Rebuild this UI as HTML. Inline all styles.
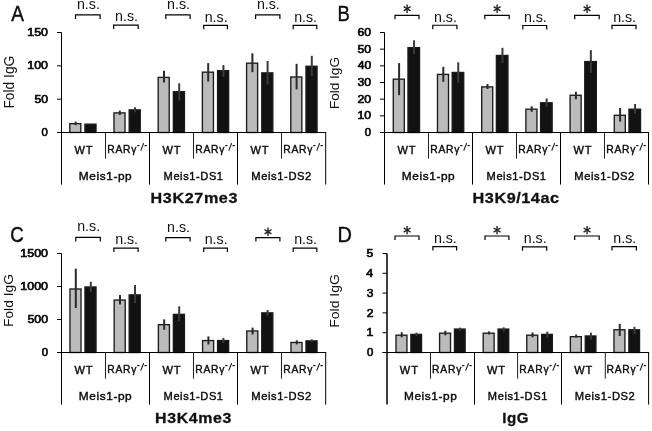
<!DOCTYPE html>
<html><head><meta charset="utf-8"><style>
html,body{margin:0;padding:0;background:#fff;width:652px;height:431px;overflow:hidden}
svg{display:block;will-change:transform;filter:blur(0.35px)}
text{font-family:"Liberation Sans",sans-serif}
text.r{stroke:#000;stroke-width:0.4px}
text.t{stroke:#111;stroke-width:0.3px}
text.k{stroke:#000;stroke-width:0.6px}
</style></head><body>
<svg width="652" height="431" viewBox="0 0 652 431" font-family="Liberation Sans, sans-serif">
<rect width="652" height="431" fill="#fff"/>
<rect x="69.77" y="123.67" width="11.05" height="8.82" fill="#bbbbbb" stroke="#1a1a1a" stroke-width="1.35"/>
<line x1="75.60" y1="121.60" x2="75.60" y2="125.20" stroke="#2a2a2a" stroke-width="2.0"/>
<rect x="84.97" y="124.17" width="11.05" height="8.32" fill="#121212" stroke="#1a1a1a" stroke-width="1.35"/>
<rect x="113.97" y="112.88" width="11.05" height="19.62" fill="#bbbbbb" stroke="#1a1a1a" stroke-width="1.35"/>
<line x1="119.80" y1="110.60" x2="119.80" y2="115.00" stroke="#2a2a2a" stroke-width="2.0"/>
<rect x="129.18" y="109.88" width="11.05" height="22.62" fill="#121212" stroke="#1a1a1a" stroke-width="1.35"/>
<line x1="135.00" y1="107.30" x2="135.00" y2="112.20" stroke="#3a3a3a" stroke-width="2.0"/>
<rect x="158.18" y="77.38" width="11.05" height="55.12" fill="#bbbbbb" stroke="#1a1a1a" stroke-width="1.35"/>
<line x1="164.00" y1="70.80" x2="164.00" y2="82.60" stroke="#2a2a2a" stroke-width="2.0"/>
<rect x="173.38" y="91.67" width="11.05" height="40.83" fill="#121212" stroke="#1a1a1a" stroke-width="1.35"/>
<line x1="179.20" y1="83.30" x2="179.20" y2="100.50" stroke="#3a3a3a" stroke-width="2.0"/>
<rect x="202.38" y="72.17" width="11.05" height="60.33" fill="#bbbbbb" stroke="#1a1a1a" stroke-width="1.35"/>
<line x1="208.20" y1="63.10" x2="208.20" y2="81.50" stroke="#2a2a2a" stroke-width="2.0"/>
<rect x="217.58" y="70.67" width="11.05" height="61.83" fill="#121212" stroke="#1a1a1a" stroke-width="1.35"/>
<line x1="223.40" y1="65.00" x2="223.40" y2="76.90" stroke="#3a3a3a" stroke-width="2.0"/>
<rect x="246.58" y="63.17" width="11.05" height="69.33" fill="#bbbbbb" stroke="#1a1a1a" stroke-width="1.35"/>
<line x1="252.40" y1="53.30" x2="252.40" y2="72.20" stroke="#2a2a2a" stroke-width="2.0"/>
<rect x="261.78" y="72.88" width="11.05" height="59.62" fill="#121212" stroke="#1a1a1a" stroke-width="1.35"/>
<line x1="267.60" y1="61.00" x2="267.60" y2="84.50" stroke="#3a3a3a" stroke-width="2.0"/>
<rect x="290.78" y="76.97" width="11.05" height="55.53" fill="#bbbbbb" stroke="#1a1a1a" stroke-width="1.35"/>
<line x1="296.60" y1="63.80" x2="296.60" y2="89.40" stroke="#2a2a2a" stroke-width="2.0"/>
<rect x="305.98" y="66.27" width="11.05" height="66.23" fill="#121212" stroke="#1a1a1a" stroke-width="1.35"/>
<line x1="311.80" y1="55.80" x2="311.80" y2="76.00" stroke="#3a3a3a" stroke-width="2.0"/>
<line x1="61.50" y1="32.50" x2="61.50" y2="184.60" stroke="#000" stroke-width="1.0"/>
<line x1="57.00" y1="132.50" x2="326.20" y2="132.50" stroke="#000" stroke-width="1.0"/>
<line x1="105.50" y1="132.50" x2="105.50" y2="158.60" stroke="#222" stroke-width="1.0"/>
<line x1="149.50" y1="132.50" x2="149.50" y2="184.60" stroke="#000" stroke-width="1.0"/>
<line x1="193.50" y1="132.50" x2="193.50" y2="158.60" stroke="#222" stroke-width="1.0"/>
<line x1="237.50" y1="132.50" x2="237.50" y2="184.60" stroke="#000" stroke-width="1.0"/>
<line x1="281.50" y1="132.50" x2="281.50" y2="158.60" stroke="#222" stroke-width="1.0"/>
<line x1="325.70" y1="132.50" x2="325.70" y2="184.60" stroke="#000" stroke-width="1.0"/>
<line x1="57.00" y1="32.50" x2="61.50" y2="32.50" stroke="#000" stroke-width="1.0"/>
<text class="k" transform="translate(27.29,36.10) scale(1.2054,1)" font-size="10.29" font-weight="normal" fill="#111">150</text>
<line x1="57.00" y1="65.83" x2="61.50" y2="65.83" stroke="#000" stroke-width="1.0"/>
<text class="k" transform="translate(27.29,69.43) scale(1.2054,1)" font-size="10.29" font-weight="normal" fill="#111">100</text>
<line x1="57.00" y1="99.17" x2="61.50" y2="99.17" stroke="#000" stroke-width="1.0"/>
<text class="k" transform="translate(34.40,102.77) scale(1.1846,1)" font-size="10.29" font-weight="normal" fill="#111">50</text>
<line x1="57.00" y1="132.50" x2="61.50" y2="132.50" stroke="#000" stroke-width="1.0"/>
<text class="k" transform="translate(41.61,136.10) scale(1.1006,1)" font-size="10.29" font-weight="normal" fill="#111">0</text>
<rect x="393.28" y="79.17" width="11.05" height="53.33" fill="#bbbbbb" stroke="#1a1a1a" stroke-width="1.35"/>
<line x1="399.10" y1="63.10" x2="399.10" y2="95.20" stroke="#2a2a2a" stroke-width="2.0"/>
<rect x="407.98" y="47.67" width="11.55" height="84.83" fill="#121212" stroke="#1a1a1a" stroke-width="1.35"/>
<line x1="414.05" y1="40.30" x2="414.05" y2="54.00" stroke="#3a3a3a" stroke-width="2.0"/>
<rect x="437.48" y="74.38" width="11.05" height="58.12" fill="#bbbbbb" stroke="#1a1a1a" stroke-width="1.35"/>
<line x1="443.30" y1="66.80" x2="443.30" y2="81.80" stroke="#2a2a2a" stroke-width="2.0"/>
<rect x="452.18" y="72.47" width="11.55" height="60.03" fill="#121212" stroke="#1a1a1a" stroke-width="1.35"/>
<line x1="458.25" y1="62.30" x2="458.25" y2="82.60" stroke="#3a3a3a" stroke-width="2.0"/>
<rect x="481.68" y="86.88" width="11.05" height="45.62" fill="#bbbbbb" stroke="#1a1a1a" stroke-width="1.35"/>
<line x1="487.50" y1="84.00" x2="487.50" y2="89.00" stroke="#2a2a2a" stroke-width="2.0"/>
<rect x="496.38" y="55.47" width="11.55" height="77.03" fill="#121212" stroke="#1a1a1a" stroke-width="1.35"/>
<line x1="502.45" y1="47.80" x2="502.45" y2="63.10" stroke="#3a3a3a" stroke-width="2.0"/>
<rect x="525.88" y="109.17" width="11.05" height="23.32" fill="#bbbbbb" stroke="#1a1a1a" stroke-width="1.35"/>
<line x1="531.70" y1="106.30" x2="531.70" y2="111.80" stroke="#2a2a2a" stroke-width="2.0"/>
<rect x="540.58" y="102.77" width="11.55" height="29.73" fill="#121212" stroke="#1a1a1a" stroke-width="1.35"/>
<line x1="546.65" y1="98.50" x2="546.65" y2="106.80" stroke="#3a3a3a" stroke-width="2.0"/>
<rect x="570.08" y="95.27" width="11.05" height="37.23" fill="#bbbbbb" stroke="#1a1a1a" stroke-width="1.35"/>
<line x1="575.90" y1="91.80" x2="575.90" y2="99.30" stroke="#2a2a2a" stroke-width="2.0"/>
<rect x="584.77" y="61.57" width="11.55" height="70.92" fill="#121212" stroke="#1a1a1a" stroke-width="1.35"/>
<line x1="590.85" y1="50.10" x2="590.85" y2="72.90" stroke="#3a3a3a" stroke-width="2.0"/>
<rect x="614.27" y="115.27" width="11.05" height="17.23" fill="#bbbbbb" stroke="#1a1a1a" stroke-width="1.35"/>
<line x1="620.10" y1="108.00" x2="620.10" y2="121.60" stroke="#2a2a2a" stroke-width="2.0"/>
<rect x="628.97" y="109.17" width="11.55" height="23.32" fill="#121212" stroke="#1a1a1a" stroke-width="1.35"/>
<line x1="635.05" y1="104.00" x2="635.05" y2="114.00" stroke="#3a3a3a" stroke-width="2.0"/>
<line x1="384.50" y1="32.50" x2="384.50" y2="184.60" stroke="#000" stroke-width="1.0"/>
<line x1="380.00" y1="132.50" x2="649.00" y2="132.50" stroke="#000" stroke-width="1.0"/>
<line x1="428.50" y1="132.50" x2="428.50" y2="158.60" stroke="#222" stroke-width="1.0"/>
<line x1="472.50" y1="132.50" x2="472.50" y2="184.60" stroke="#000" stroke-width="1.0"/>
<line x1="516.50" y1="132.50" x2="516.50" y2="158.60" stroke="#222" stroke-width="1.0"/>
<line x1="560.50" y1="132.50" x2="560.50" y2="184.60" stroke="#000" stroke-width="1.0"/>
<line x1="604.50" y1="132.50" x2="604.50" y2="158.60" stroke="#222" stroke-width="1.0"/>
<line x1="648.50" y1="132.50" x2="648.50" y2="184.60" stroke="#000" stroke-width="1.0"/>
<line x1="380.00" y1="32.50" x2="384.50" y2="32.50" stroke="#000" stroke-width="1.0"/>
<text class="k" transform="translate(357.54,36.10) scale(1.1901,1)" font-size="10.29" font-weight="normal" fill="#111">60</text>
<line x1="380.00" y1="49.17" x2="384.50" y2="49.17" stroke="#000" stroke-width="1.0"/>
<text class="k" transform="translate(357.60,52.77) scale(1.1846,1)" font-size="10.29" font-weight="normal" fill="#111">50</text>
<line x1="380.00" y1="65.83" x2="384.50" y2="65.83" stroke="#000" stroke-width="1.0"/>
<text class="k" transform="translate(357.66,69.43) scale(1.1797,1)" font-size="10.29" font-weight="normal" fill="#111">40</text>
<line x1="380.00" y1="82.50" x2="384.50" y2="82.50" stroke="#000" stroke-width="1.0"/>
<text class="k" transform="translate(357.54,86.10) scale(1.1906,1)" font-size="10.29" font-weight="normal" fill="#111">30</text>
<line x1="380.00" y1="99.17" x2="384.50" y2="99.17" stroke="#000" stroke-width="1.0"/>
<text class="k" transform="translate(357.54,102.77) scale(1.1901,1)" font-size="10.29" font-weight="normal" fill="#111">20</text>
<line x1="380.00" y1="115.83" x2="384.50" y2="115.83" stroke="#000" stroke-width="1.0"/>
<text class="k" transform="translate(357.55,119.43) scale(1.1890,1)" font-size="10.29" font-weight="normal" fill="#111">10</text>
<line x1="380.00" y1="132.50" x2="384.50" y2="132.50" stroke="#000" stroke-width="1.0"/>
<text class="k" transform="translate(364.81,136.10) scale(1.1006,1)" font-size="10.29" font-weight="normal" fill="#111">0</text>
<rect x="69.97" y="288.98" width="11.05" height="63.52" fill="#bbbbbb" stroke="#1a1a1a" stroke-width="1.35"/>
<line x1="75.80" y1="268.70" x2="75.80" y2="308.00" stroke="#2a2a2a" stroke-width="2.0"/>
<rect x="84.97" y="286.98" width="11.05" height="65.52" fill="#121212" stroke="#1a1a1a" stroke-width="1.35"/>
<line x1="90.80" y1="281.70" x2="90.80" y2="292.20" stroke="#3a3a3a" stroke-width="2.0"/>
<rect x="114.17" y="300.07" width="11.05" height="52.43" fill="#bbbbbb" stroke="#1a1a1a" stroke-width="1.35"/>
<line x1="120.00" y1="295.00" x2="120.00" y2="304.40" stroke="#2a2a2a" stroke-width="2.0"/>
<rect x="129.18" y="294.88" width="11.05" height="57.63" fill="#121212" stroke="#1a1a1a" stroke-width="1.35"/>
<line x1="135.00" y1="285.00" x2="135.00" y2="302.90" stroke="#3a3a3a" stroke-width="2.0"/>
<rect x="158.38" y="324.68" width="11.05" height="27.82" fill="#bbbbbb" stroke="#1a1a1a" stroke-width="1.35"/>
<line x1="164.20" y1="319.40" x2="164.20" y2="329.80" stroke="#2a2a2a" stroke-width="2.0"/>
<rect x="173.38" y="314.38" width="11.05" height="38.13" fill="#121212" stroke="#1a1a1a" stroke-width="1.35"/>
<line x1="179.20" y1="306.30" x2="179.20" y2="321.40" stroke="#3a3a3a" stroke-width="2.0"/>
<rect x="202.58" y="340.57" width="11.05" height="11.93" fill="#bbbbbb" stroke="#1a1a1a" stroke-width="1.35"/>
<line x1="208.40" y1="336.40" x2="208.40" y2="344.50" stroke="#2a2a2a" stroke-width="2.0"/>
<rect x="217.58" y="340.57" width="11.05" height="11.93" fill="#121212" stroke="#1a1a1a" stroke-width="1.35"/>
<line x1="223.40" y1="338.00" x2="223.40" y2="343.00" stroke="#3a3a3a" stroke-width="2.0"/>
<rect x="246.78" y="330.98" width="11.05" height="21.52" fill="#bbbbbb" stroke="#1a1a1a" stroke-width="1.35"/>
<line x1="252.60" y1="327.60" x2="252.60" y2="334.50" stroke="#2a2a2a" stroke-width="2.0"/>
<rect x="261.78" y="312.88" width="11.05" height="39.63" fill="#121212" stroke="#1a1a1a" stroke-width="1.35"/>
<line x1="267.60" y1="310.00" x2="267.60" y2="316.00" stroke="#3a3a3a" stroke-width="2.0"/>
<rect x="290.98" y="342.48" width="11.05" height="10.02" fill="#bbbbbb" stroke="#1a1a1a" stroke-width="1.35"/>
<line x1="296.80" y1="340.30" x2="296.80" y2="344.40" stroke="#2a2a2a" stroke-width="2.0"/>
<rect x="305.98" y="340.88" width="11.05" height="11.63" fill="#121212" stroke="#1a1a1a" stroke-width="1.35"/>
<line x1="311.80" y1="339.40" x2="311.80" y2="342.00" stroke="#3a3a3a" stroke-width="2.0"/>
<line x1="61.50" y1="253.50" x2="61.50" y2="404.60" stroke="#000" stroke-width="1.0"/>
<line x1="57.00" y1="352.50" x2="326.20" y2="352.50" stroke="#000" stroke-width="1.0"/>
<line x1="105.50" y1="352.50" x2="105.50" y2="378.60" stroke="#222" stroke-width="1.0"/>
<line x1="149.50" y1="352.50" x2="149.50" y2="404.60" stroke="#000" stroke-width="1.0"/>
<line x1="193.50" y1="352.50" x2="193.50" y2="378.60" stroke="#222" stroke-width="1.0"/>
<line x1="237.50" y1="352.50" x2="237.50" y2="404.60" stroke="#000" stroke-width="1.0"/>
<line x1="281.50" y1="352.50" x2="281.50" y2="378.60" stroke="#222" stroke-width="1.0"/>
<line x1="325.70" y1="352.50" x2="325.70" y2="404.60" stroke="#000" stroke-width="1.0"/>
<line x1="57.00" y1="253.50" x2="61.50" y2="253.50" stroke="#000" stroke-width="1.0"/>
<text class="k" transform="translate(20.27,257.10) scale(1.2133,1)" font-size="10.29" font-weight="normal" fill="#111">1500</text>
<line x1="57.00" y1="286.50" x2="61.50" y2="286.50" stroke="#000" stroke-width="1.0"/>
<text class="k" transform="translate(20.27,290.10) scale(1.2133,1)" font-size="10.29" font-weight="normal" fill="#111">1000</text>
<line x1="57.00" y1="319.50" x2="61.50" y2="319.50" stroke="#000" stroke-width="1.0"/>
<text class="k" transform="translate(27.44,323.10) scale(1.2022,1)" font-size="10.29" font-weight="normal" fill="#111">500</text>
<line x1="57.00" y1="352.50" x2="61.50" y2="352.50" stroke="#000" stroke-width="1.0"/>
<text class="k" transform="translate(41.71,356.10) scale(1.1006,1)" font-size="10.29" font-weight="normal" fill="#111">0</text>
<rect x="395.98" y="335.18" width="10.95" height="17.32" fill="#bbbbbb" stroke="#1a1a1a" stroke-width="1.35"/>
<line x1="401.75" y1="332.20" x2="401.75" y2="337.30" stroke="#2a2a2a" stroke-width="2.0"/>
<rect x="410.88" y="334.38" width="10.65" height="18.13" fill="#121212" stroke="#1a1a1a" stroke-width="1.35"/>
<line x1="416.50" y1="332.70" x2="416.50" y2="336.00" stroke="#3a3a3a" stroke-width="2.0"/>
<rect x="439.58" y="333.18" width="10.95" height="19.32" fill="#bbbbbb" stroke="#1a1a1a" stroke-width="1.35"/>
<line x1="445.35" y1="330.70" x2="445.35" y2="335.30" stroke="#2a2a2a" stroke-width="2.0"/>
<rect x="454.48" y="329.07" width="10.65" height="23.43" fill="#121212" stroke="#1a1a1a" stroke-width="1.35"/>
<line x1="460.10" y1="327.60" x2="460.10" y2="330.70" stroke="#3a3a3a" stroke-width="2.0"/>
<rect x="483.18" y="333.18" width="10.95" height="19.32" fill="#bbbbbb" stroke="#1a1a1a" stroke-width="1.35"/>
<line x1="488.95" y1="331.40" x2="488.95" y2="334.50" stroke="#2a2a2a" stroke-width="2.0"/>
<rect x="498.07" y="329.07" width="10.65" height="23.43" fill="#121212" stroke="#1a1a1a" stroke-width="1.35"/>
<line x1="503.70" y1="327.30" x2="503.70" y2="331.40" stroke="#3a3a3a" stroke-width="2.0"/>
<rect x="526.77" y="335.18" width="10.95" height="17.32" fill="#bbbbbb" stroke="#1a1a1a" stroke-width="1.35"/>
<line x1="532.55" y1="332.50" x2="532.55" y2="337.30" stroke="#2a2a2a" stroke-width="2.0"/>
<rect x="541.67" y="334.38" width="10.65" height="18.13" fill="#121212" stroke="#1a1a1a" stroke-width="1.35"/>
<line x1="547.30" y1="331.70" x2="547.30" y2="337.60" stroke="#3a3a3a" stroke-width="2.0"/>
<rect x="570.38" y="336.68" width="10.95" height="15.82" fill="#bbbbbb" stroke="#1a1a1a" stroke-width="1.35"/>
<line x1="576.15" y1="334.50" x2="576.15" y2="337.60" stroke="#2a2a2a" stroke-width="2.0"/>
<rect x="585.27" y="335.98" width="10.65" height="16.52" fill="#121212" stroke="#1a1a1a" stroke-width="1.35"/>
<line x1="590.90" y1="332.70" x2="590.90" y2="339.60" stroke="#3a3a3a" stroke-width="2.0"/>
<rect x="613.97" y="329.78" width="10.95" height="22.72" fill="#bbbbbb" stroke="#1a1a1a" stroke-width="1.35"/>
<line x1="619.75" y1="323.80" x2="619.75" y2="336.00" stroke="#2a2a2a" stroke-width="2.0"/>
<rect x="628.88" y="329.78" width="10.65" height="22.72" fill="#121212" stroke="#1a1a1a" stroke-width="1.35"/>
<line x1="634.50" y1="326.80" x2="634.50" y2="334.00" stroke="#3a3a3a" stroke-width="2.0"/>
<line x1="387.00" y1="253.50" x2="387.00" y2="404.60" stroke="#000" stroke-width="1.5"/>
<line x1="382.50" y1="352.50" x2="649.10" y2="352.50" stroke="#000" stroke-width="1.0"/>
<line x1="430.50" y1="352.50" x2="430.50" y2="378.60" stroke="#222" stroke-width="1.0"/>
<line x1="474.50" y1="352.50" x2="474.50" y2="404.60" stroke="#000" stroke-width="1.0"/>
<line x1="517.60" y1="352.50" x2="517.60" y2="378.60" stroke="#222" stroke-width="1.0"/>
<line x1="561.50" y1="352.50" x2="561.50" y2="404.60" stroke="#000" stroke-width="1.0"/>
<line x1="605.30" y1="352.50" x2="605.30" y2="378.60" stroke="#222" stroke-width="1.0"/>
<line x1="648.60" y1="352.50" x2="648.60" y2="404.60" stroke="#000" stroke-width="1.0"/>
<line x1="382.50" y1="253.50" x2="387.00" y2="253.50" stroke="#000" stroke-width="1.0"/>
<text class="k" transform="translate(366.56,257.10) scale(1.1772,1)" font-size="10.29" font-weight="normal" fill="#111">5</text>
<line x1="382.50" y1="273.30" x2="387.00" y2="273.30" stroke="#000" stroke-width="1.0"/>
<text class="k" transform="translate(366.36,276.90) scale(1.1929,1)" font-size="10.29" font-weight="normal" fill="#111">4</text>
<line x1="382.50" y1="293.10" x2="387.00" y2="293.10" stroke="#000" stroke-width="1.0"/>
<text class="k" transform="translate(366.63,296.70) scale(1.1642,1)" font-size="10.29" font-weight="normal" fill="#111">3</text>
<line x1="382.50" y1="312.90" x2="387.00" y2="312.90" stroke="#000" stroke-width="1.0"/>
<text class="k" transform="translate(366.70,316.50) scale(1.1747,1)" font-size="10.29" font-weight="normal" fill="#111">2</text>
<line x1="382.50" y1="332.70" x2="387.00" y2="332.70" stroke="#000" stroke-width="1.0"/>
<text class="k" transform="translate(366.50,336.30) scale(1.2003,1)" font-size="10.29" font-weight="normal" fill="#111">1</text>
<line x1="382.50" y1="352.50" x2="387.00" y2="352.50" stroke="#000" stroke-width="1.0"/>
<text class="k" transform="translate(366.91,356.10) scale(1.1006,1)" font-size="10.29" font-weight="normal" fill="#111">0</text>
<text class="r" transform="translate(74.54,153.50) scale(0.9625,1)" font-size="11.48" font-weight="normal" fill="#111" letter-spacing="0.925">WT</text>
<text class="r" transform="translate(107.17,153.10) scale(0.8789,1)" font-size="11.77" font-weight="normal" fill="#111" letter-spacing="0.862">RARγ</text>
<line x1="137.20" y1="145.60" x2="139.50" y2="145.60" stroke="#111" stroke-width="1.2"/>
<line x1="140.70" y1="150.60" x2="143.70" y2="143.10" stroke="#111" stroke-width="1.1"/>
<line x1="144.50" y1="145.60" x2="146.80" y2="145.60" stroke="#111" stroke-width="1.2"/>
<text class="r" transform="translate(78.85,180.00) scale(1.0192,1)" font-size="11.63" font-weight="normal" fill="#111" letter-spacing="0.576">Meis1-pp</text>
<text class="r" transform="translate(162.54,153.50) scale(0.9625,1)" font-size="11.48" font-weight="normal" fill="#111" letter-spacing="0.925">WT</text>
<text class="r" transform="translate(195.17,153.10) scale(0.8789,1)" font-size="11.77" font-weight="normal" fill="#111" letter-spacing="0.862">RARγ</text>
<line x1="225.20" y1="145.60" x2="227.50" y2="145.60" stroke="#111" stroke-width="1.2"/>
<line x1="228.70" y1="150.60" x2="231.70" y2="143.10" stroke="#111" stroke-width="1.1"/>
<line x1="232.50" y1="145.60" x2="234.80" y2="145.60" stroke="#111" stroke-width="1.2"/>
<text class="r" transform="translate(163.56,180.00) scale(0.9537,1)" font-size="11.63" font-weight="normal" fill="#111" letter-spacing="0.609">Meis1-DS1</text>
<text class="r" transform="translate(250.54,153.50) scale(0.9625,1)" font-size="11.48" font-weight="normal" fill="#111" letter-spacing="0.925">WT</text>
<text class="r" transform="translate(283.17,153.10) scale(0.8789,1)" font-size="11.77" font-weight="normal" fill="#111" letter-spacing="0.862">RARγ</text>
<line x1="313.20" y1="145.60" x2="315.50" y2="145.60" stroke="#111" stroke-width="1.2"/>
<line x1="316.70" y1="150.60" x2="319.70" y2="143.10" stroke="#111" stroke-width="1.1"/>
<line x1="320.50" y1="145.60" x2="322.80" y2="145.60" stroke="#111" stroke-width="1.2"/>
<text class="r" transform="translate(251.30,180.00) scale(0.9629,1)" font-size="11.63" font-weight="normal" fill="#111" letter-spacing="0.609">Meis1-DS2</text>
<text class="r" transform="translate(397.54,153.50) scale(0.9625,1)" font-size="11.48" font-weight="normal" fill="#111" letter-spacing="0.925">WT</text>
<text class="r" transform="translate(430.17,153.10) scale(0.8789,1)" font-size="11.77" font-weight="normal" fill="#111" letter-spacing="0.862">RARγ</text>
<line x1="460.20" y1="145.60" x2="462.50" y2="145.60" stroke="#111" stroke-width="1.2"/>
<line x1="463.70" y1="150.60" x2="466.70" y2="143.10" stroke="#111" stroke-width="1.1"/>
<line x1="467.50" y1="145.60" x2="469.80" y2="145.60" stroke="#111" stroke-width="1.2"/>
<text class="r" transform="translate(401.85,180.00) scale(1.0192,1)" font-size="11.63" font-weight="normal" fill="#111" letter-spacing="0.576">Meis1-pp</text>
<text class="r" transform="translate(485.54,153.50) scale(0.9625,1)" font-size="11.48" font-weight="normal" fill="#111" letter-spacing="0.925">WT</text>
<text class="r" transform="translate(518.17,153.10) scale(0.8789,1)" font-size="11.77" font-weight="normal" fill="#111" letter-spacing="0.862">RARγ</text>
<line x1="548.20" y1="145.60" x2="550.50" y2="145.60" stroke="#111" stroke-width="1.2"/>
<line x1="551.70" y1="150.60" x2="554.70" y2="143.10" stroke="#111" stroke-width="1.1"/>
<line x1="555.50" y1="145.60" x2="557.80" y2="145.60" stroke="#111" stroke-width="1.2"/>
<text class="r" transform="translate(486.56,180.00) scale(0.9537,1)" font-size="11.63" font-weight="normal" fill="#111" letter-spacing="0.609">Meis1-DS1</text>
<text class="r" transform="translate(573.54,153.50) scale(0.9625,1)" font-size="11.48" font-weight="normal" fill="#111" letter-spacing="0.925">WT</text>
<text class="r" transform="translate(606.17,153.10) scale(0.8789,1)" font-size="11.77" font-weight="normal" fill="#111" letter-spacing="0.862">RARγ</text>
<line x1="636.20" y1="145.60" x2="638.50" y2="145.60" stroke="#111" stroke-width="1.2"/>
<line x1="639.70" y1="150.60" x2="642.70" y2="143.10" stroke="#111" stroke-width="1.1"/>
<line x1="643.50" y1="145.60" x2="645.80" y2="145.60" stroke="#111" stroke-width="1.2"/>
<text class="r" transform="translate(574.30,180.00) scale(0.9629,1)" font-size="11.63" font-weight="normal" fill="#111" letter-spacing="0.609">Meis1-DS2</text>
<text class="r" transform="translate(74.54,373.50) scale(0.9625,1)" font-size="11.48" font-weight="normal" fill="#111" letter-spacing="0.925">WT</text>
<text class="r" transform="translate(107.17,373.10) scale(0.8789,1)" font-size="11.77" font-weight="normal" fill="#111" letter-spacing="0.862">RARγ</text>
<line x1="137.20" y1="365.60" x2="139.50" y2="365.60" stroke="#111" stroke-width="1.2"/>
<line x1="140.70" y1="370.60" x2="143.70" y2="363.10" stroke="#111" stroke-width="1.1"/>
<line x1="144.50" y1="365.60" x2="146.80" y2="365.60" stroke="#111" stroke-width="1.2"/>
<text class="r" transform="translate(78.85,400.00) scale(1.0192,1)" font-size="11.63" font-weight="normal" fill="#111" letter-spacing="0.576">Meis1-pp</text>
<text class="r" transform="translate(162.54,373.50) scale(0.9625,1)" font-size="11.48" font-weight="normal" fill="#111" letter-spacing="0.925">WT</text>
<text class="r" transform="translate(195.17,373.10) scale(0.8789,1)" font-size="11.77" font-weight="normal" fill="#111" letter-spacing="0.862">RARγ</text>
<line x1="225.20" y1="365.60" x2="227.50" y2="365.60" stroke="#111" stroke-width="1.2"/>
<line x1="228.70" y1="370.60" x2="231.70" y2="363.10" stroke="#111" stroke-width="1.1"/>
<line x1="232.50" y1="365.60" x2="234.80" y2="365.60" stroke="#111" stroke-width="1.2"/>
<text class="r" transform="translate(163.56,400.00) scale(0.9537,1)" font-size="11.63" font-weight="normal" fill="#111" letter-spacing="0.609">Meis1-DS1</text>
<text class="r" transform="translate(250.54,373.50) scale(0.9625,1)" font-size="11.48" font-weight="normal" fill="#111" letter-spacing="0.925">WT</text>
<text class="r" transform="translate(283.17,373.10) scale(0.8789,1)" font-size="11.77" font-weight="normal" fill="#111" letter-spacing="0.862">RARγ</text>
<line x1="313.20" y1="365.60" x2="315.50" y2="365.60" stroke="#111" stroke-width="1.2"/>
<line x1="316.70" y1="370.60" x2="319.70" y2="363.10" stroke="#111" stroke-width="1.1"/>
<line x1="320.50" y1="365.60" x2="322.80" y2="365.60" stroke="#111" stroke-width="1.2"/>
<text class="r" transform="translate(251.30,400.00) scale(0.9629,1)" font-size="11.63" font-weight="normal" fill="#111" letter-spacing="0.609">Meis1-DS2</text>
<text class="r" transform="translate(399.84,373.50) scale(0.9625,1)" font-size="11.48" font-weight="normal" fill="#111" letter-spacing="0.925">WT</text>
<text class="r" transform="translate(432.07,373.10) scale(0.8789,1)" font-size="11.77" font-weight="normal" fill="#111" letter-spacing="0.862">RARγ</text>
<line x1="462.10" y1="365.60" x2="464.40" y2="365.60" stroke="#111" stroke-width="1.2"/>
<line x1="465.60" y1="370.60" x2="468.60" y2="363.10" stroke="#111" stroke-width="1.1"/>
<line x1="469.40" y1="365.60" x2="471.70" y2="365.60" stroke="#111" stroke-width="1.2"/>
<text class="r" transform="translate(403.95,400.00) scale(1.0192,1)" font-size="11.63" font-weight="normal" fill="#111" letter-spacing="0.576">Meis1-pp</text>
<text class="r" transform="translate(487.04,373.50) scale(0.9625,1)" font-size="11.48" font-weight="normal" fill="#111" letter-spacing="0.925">WT</text>
<text class="r" transform="translate(519.27,373.10) scale(0.8789,1)" font-size="11.77" font-weight="normal" fill="#111" letter-spacing="0.862">RARγ</text>
<line x1="549.30" y1="365.60" x2="551.60" y2="365.60" stroke="#111" stroke-width="1.2"/>
<line x1="552.80" y1="370.60" x2="555.80" y2="363.10" stroke="#111" stroke-width="1.1"/>
<line x1="556.60" y1="365.60" x2="558.90" y2="365.60" stroke="#111" stroke-width="1.2"/>
<text class="r" transform="translate(487.86,400.00) scale(0.9537,1)" font-size="11.63" font-weight="normal" fill="#111" letter-spacing="0.609">Meis1-DS1</text>
<text class="r" transform="translate(574.24,373.50) scale(0.9625,1)" font-size="11.48" font-weight="normal" fill="#111" letter-spacing="0.925">WT</text>
<text class="r" transform="translate(606.47,373.10) scale(0.8789,1)" font-size="11.77" font-weight="normal" fill="#111" letter-spacing="0.862">RARγ</text>
<line x1="636.50" y1="365.60" x2="638.80" y2="365.60" stroke="#111" stroke-width="1.2"/>
<line x1="640.00" y1="370.60" x2="643.00" y2="363.10" stroke="#111" stroke-width="1.1"/>
<line x1="643.80" y1="365.60" x2="646.10" y2="365.60" stroke="#111" stroke-width="1.2"/>
<text class="r" transform="translate(574.80,400.00) scale(0.9629,1)" font-size="11.63" font-weight="normal" fill="#111" letter-spacing="0.609">Meis1-DS2</text>
<text class="t" transform="translate(150.60,202.65) scale(1.0886,1)" font-size="14.83" font-weight="bold" fill="#111" letter-spacing="0.559">H3K27me3</text>
<text class="t" transform="translate(472.59,202.85) scale(1.0747,1)" font-size="15.12" font-weight="bold" fill="#111" letter-spacing="0.494">H3K9/14ac</text>
<text class="t" transform="translate(155.12,422.75) scale(1.1153,1)" font-size="14.24" font-weight="bold" fill="#111" letter-spacing="0.557">H3K4me3</text>
<text class="t" transform="translate(502.17,422.75) scale(0.9810,1)" font-size="15.41" font-weight="bold" fill="#111" letter-spacing="0.624">IgG</text>
<text class="r" transform="translate(11.20,20.80) scale(0.8423,1)" font-size="22.67" font-weight="normal" fill="#111">A</text>
<text class="r" transform="translate(337.42,21.10) scale(0.8376,1)" font-size="22.09" font-weight="normal" fill="#111">B</text>
<text class="r" transform="translate(10.26,241.80) scale(0.8804,1)" font-size="21.29" font-weight="normal" fill="#111">C</text>
<text class="r" transform="translate(337.50,241.60) scale(0.9361,1)" font-size="21.37" font-weight="normal" fill="#111">D</text>
<text transform="translate(13.60,108.60) rotate(-90) scale(0.9691,1)" font-size="14.24" font-weight="normal" fill="#111">Fold IgG</text>
<text transform="translate(339.30,109.09) rotate(-90) scale(1.0997,1)" font-size="12.35" font-weight="normal" fill="#111">Fold IgG</text>
<text transform="translate(13.30,327.00) rotate(-90) scale(1.0212,1)" font-size="13.52" font-weight="normal" fill="#111">Fold IgG</text>
<text transform="translate(339.30,327.82) rotate(-90) scale(1.0962,1)" font-size="12.79" font-weight="normal" fill="#111">Fold IgG</text>
<path d="M75.50,18.90 V14.90 H100.10 V18.90" fill="none" stroke="#000" stroke-width="1.2"/>
<text transform="translate(76.93,8.90) scale(1.0151,1)" font-size="14.02" font-weight="normal" fill="#111">n.s.</text>
<path d="M113.60,29.10 V25.10 H138.20 V29.10" fill="none" stroke="#000" stroke-width="1.2"/>
<text transform="translate(115.03,21.40) scale(1.0016,1)" font-size="14.20" font-weight="normal" fill="#111">n.s.</text>
<path d="M165.80,18.90 V14.90 H190.10 V18.90" fill="none" stroke="#000" stroke-width="1.2"/>
<text transform="translate(167.08,8.90) scale(1.0151,1)" font-size="14.02" font-weight="normal" fill="#111">n.s.</text>
<path d="M203.70,29.30 V25.30 H227.40 V29.30" fill="none" stroke="#000" stroke-width="1.2"/>
<text transform="translate(204.68,21.60) scale(1.0016,1)" font-size="14.20" font-weight="normal" fill="#111">n.s.</text>
<path d="M255.60,18.90 V14.90 H279.90 V18.90" fill="none" stroke="#000" stroke-width="1.2"/>
<text transform="translate(256.88,8.90) scale(1.0151,1)" font-size="14.02" font-weight="normal" fill="#111">n.s.</text>
<path d="M293.20,29.30 V25.30 H316.80 V29.30" fill="none" stroke="#000" stroke-width="1.2"/>
<text transform="translate(294.13,21.60) scale(1.0016,1)" font-size="14.20" font-weight="normal" fill="#111">n.s.</text>
<path d="M395.00,19.30 V15.30 H419.00 V19.30" fill="none" stroke="#000" stroke-width="1.2"/>
<line x1="407.10" y1="4.50" x2="407.10" y2="12.90" stroke="#222" stroke-width="1.4"/>
<line x1="403.64" y1="6.60" x2="410.56" y2="10.80" stroke="#222" stroke-width="1.4"/>
<line x1="403.64" y1="10.80" x2="410.56" y2="6.60" stroke="#222" stroke-width="1.4"/>
<path d="M432.80,29.25 V25.25 H456.90 V29.25" fill="none" stroke="#000" stroke-width="1.2"/>
<text transform="translate(433.98,21.55) scale(1.0016,1)" font-size="14.20" font-weight="normal" fill="#111">n.s.</text>
<path d="M484.80,19.30 V15.30 H509.20 V19.30" fill="none" stroke="#000" stroke-width="1.2"/>
<line x1="497.10" y1="4.50" x2="497.10" y2="12.90" stroke="#222" stroke-width="1.4"/>
<line x1="493.64" y1="6.60" x2="500.56" y2="10.80" stroke="#222" stroke-width="1.4"/>
<line x1="493.64" y1="10.80" x2="500.56" y2="6.60" stroke="#222" stroke-width="1.4"/>
<path d="M522.80,29.50 V25.50 H546.70 V29.50" fill="none" stroke="#000" stroke-width="1.2"/>
<text transform="translate(523.88,21.80) scale(1.0016,1)" font-size="14.20" font-weight="normal" fill="#111">n.s.</text>
<path d="M574.70,19.30 V15.30 H599.20 V19.30" fill="none" stroke="#000" stroke-width="1.2"/>
<line x1="587.05" y1="4.50" x2="587.05" y2="12.90" stroke="#222" stroke-width="1.4"/>
<line x1="583.59" y1="6.60" x2="590.51" y2="10.80" stroke="#222" stroke-width="1.4"/>
<line x1="583.59" y1="10.80" x2="590.51" y2="6.60" stroke="#222" stroke-width="1.4"/>
<path d="M612.00,29.30 V25.30 H636.00 V29.30" fill="none" stroke="#000" stroke-width="1.2"/>
<text transform="translate(613.13,21.60) scale(1.0016,1)" font-size="14.20" font-weight="normal" fill="#111">n.s.</text>
<path d="M75.80,241.40 V237.40 H100.30 V241.40" fill="none" stroke="#000" stroke-width="1.2"/>
<text transform="translate(77.18,231.40) scale(1.0151,1)" font-size="14.02" font-weight="normal" fill="#111">n.s.</text>
<path d="M113.90,252.10 V248.10 H138.10 V252.10" fill="none" stroke="#000" stroke-width="1.2"/>
<text transform="translate(115.13,244.40) scale(1.0016,1)" font-size="14.20" font-weight="normal" fill="#111">n.s.</text>
<path d="M165.80,241.60 V237.60 H190.10 V241.60" fill="none" stroke="#000" stroke-width="1.2"/>
<text transform="translate(167.08,231.60) scale(1.0151,1)" font-size="14.02" font-weight="normal" fill="#111">n.s.</text>
<path d="M203.70,252.10 V248.10 H227.40 V252.10" fill="none" stroke="#000" stroke-width="1.2"/>
<text transform="translate(204.68,244.40) scale(1.0016,1)" font-size="14.20" font-weight="normal" fill="#111">n.s.</text>
<path d="M255.90,241.60 V237.60 H279.90 V241.60" fill="none" stroke="#000" stroke-width="1.2"/>
<line x1="268.00" y1="227.50" x2="268.00" y2="235.90" stroke="#222" stroke-width="1.4"/>
<line x1="264.54" y1="229.60" x2="271.46" y2="233.80" stroke="#222" stroke-width="1.4"/>
<line x1="264.54" y1="233.80" x2="271.46" y2="229.60" stroke="#222" stroke-width="1.4"/>
<path d="M293.20,252.10 V248.10 H316.80 V252.10" fill="none" stroke="#000" stroke-width="1.2"/>
<text transform="translate(294.13,244.40) scale(1.0016,1)" font-size="14.20" font-weight="normal" fill="#111">n.s.</text>
<path d="M395.00,240.00 V236.00 H419.00 V240.00" fill="none" stroke="#000" stroke-width="1.2"/>
<line x1="407.10" y1="225.90" x2="407.10" y2="234.30" stroke="#222" stroke-width="1.4"/>
<line x1="403.64" y1="228.00" x2="410.56" y2="232.20" stroke="#222" stroke-width="1.4"/>
<line x1="403.64" y1="232.20" x2="410.56" y2="228.00" stroke="#222" stroke-width="1.4"/>
<path d="M432.90,250.60 V246.60 H456.60 V250.60" fill="none" stroke="#000" stroke-width="1.2"/>
<text transform="translate(433.88,242.90) scale(1.0016,1)" font-size="14.20" font-weight="normal" fill="#111">n.s.</text>
<path d="M485.00,240.00 V236.00 H508.90 V240.00" fill="none" stroke="#000" stroke-width="1.2"/>
<line x1="497.05" y1="225.90" x2="497.05" y2="234.30" stroke="#222" stroke-width="1.4"/>
<line x1="493.59" y1="228.00" x2="500.51" y2="232.20" stroke="#222" stroke-width="1.4"/>
<line x1="493.59" y1="232.20" x2="500.51" y2="228.00" stroke="#222" stroke-width="1.4"/>
<path d="M522.50,250.80 V246.80 H546.70 V250.80" fill="none" stroke="#000" stroke-width="1.2"/>
<text transform="translate(523.73,243.10) scale(1.0016,1)" font-size="14.20" font-weight="normal" fill="#111">n.s.</text>
<path d="M574.70,240.00 V236.00 H599.20 V240.00" fill="none" stroke="#000" stroke-width="1.2"/>
<line x1="587.05" y1="225.90" x2="587.05" y2="234.30" stroke="#222" stroke-width="1.4"/>
<line x1="583.59" y1="228.00" x2="590.51" y2="232.20" stroke="#222" stroke-width="1.4"/>
<line x1="583.59" y1="232.20" x2="590.51" y2="228.00" stroke="#222" stroke-width="1.4"/>
<path d="M612.00,250.60 V246.60 H636.40 V250.60" fill="none" stroke="#000" stroke-width="1.2"/>
<text transform="translate(613.33,242.90) scale(1.0016,1)" font-size="14.20" font-weight="normal" fill="#111">n.s.</text>
</svg>
</body></html>
